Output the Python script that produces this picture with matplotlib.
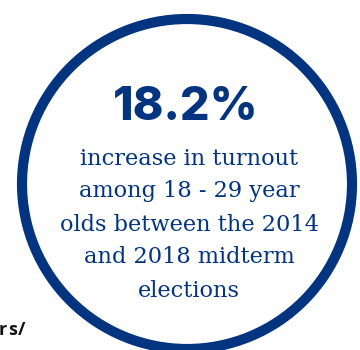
import matplotlib
matplotlib.use("Agg")
import matplotlib.pyplot as plt
from matplotlib.patches import Circle

# content
stat_value = "18.2%"
caption_lines = [
    "increase in turnout",
    "among 18 - 29 year",
    "olds between the 2014",
    "and 2018 midterm",
    "elections",
]
side_text = "rs/"

navy = "#03347f"

fig = plt.figure(figsize=(3.6, 3.5), dpi=100)
ax = fig.add_axes([0, 0, 1, 1])
ax.set_xlim(0, 360)
ax.set_ylim(350, 0)
ax.set_aspect("equal")
ax.axis("off")

ring = Circle((187, 184), 165, fill=False, edgecolor=navy, linewidth=7.3)
ax.add_patch(ring)

ax.text(186, 108, stat_value, ha="center", va="center", fontsize=33.5,
        fontweight="heavy", family="Inter", color=navy)

baselines = [165, 197, 231, 263, 297]
for line, yb in zip(caption_lines, baselines):
    ax.text(189, yb, line, ha="center", va="baseline", fontsize=16.2,
            family="DejaVu Serif", color=navy)

xs = [-1, 8.5, 17.5]
for ch, xc in zip(side_text, xs):
    ax.text(xc, 335, ch, ha="left", va="baseline", fontsize=13,
            fontweight="bold", family="Open Sans", color="#111111")

fig.savefig("out.png", dpi=100)
